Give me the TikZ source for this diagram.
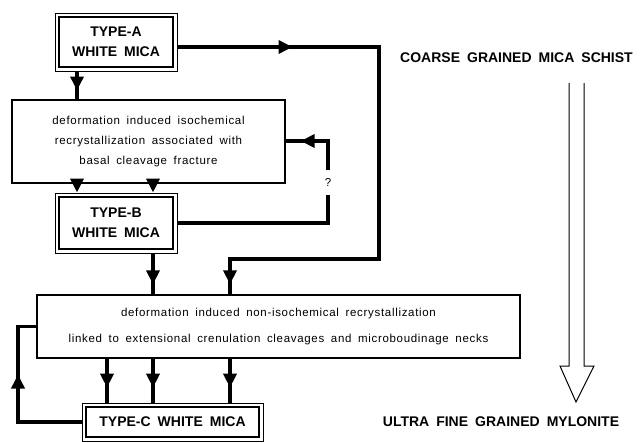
\documentclass[tikz,border=0pt]{standalone}
\usepackage{fontspec}
\setmainfont{Liberation Sans}
\newfontfamily\capsfont[WordSpace=1.8]{Liberation Sans}
\newfontfamily\lowfont[WordSpace=1.7,LetterSpace=6]{Liberation Sans}
\usetikzlibrary{arrows.meta,decorations.markings}
\tikzset{
  micabox/.style={draw, line width=1pt, inner sep=0pt, align=center,
    font=\capsfont\bfseries\fontsize{14}{20}\selectfont},
  procbox/.style={draw, line width=1.3pt, inner sep=0pt, align=center},
  conn/.style={line width=3.8pt},
  endtip/.style={-{Triangle[length=14pt,width=13pt]}},
  marktip/.style={postaction={decorate}, decoration={markings,
    mark=at position #1 with {\arrow{Triangle[length=14pt,width=13pt]}}}},
  sidelabel/.style={font=\capsfont\bfseries\fontsize{14}{15}\selectfont, inner sep=0pt}
}
\begin{document}
\begin{tikzpicture}[x=1pt,y=-1pt]
\useasboundingbox (0,0) rectangle (640,442);
% column coordinates
\coordinate (c18) at (18,0);
\coordinate (c77) at (77,0);
\coordinate (c107) at (107,0);
\coordinate (c153) at (153,0);
\coordinate (c230) at (230,0);
\coordinate (c328) at (328,0);
\coordinate (c379) at (379,0);
\coordinate (r141) at (0,141);
\coordinate (r259) at (0,259);
% boxes
\node[micabox, minimum width=122pt, minimum height=58pt] (A) at (116,42) {TYPE-A\\WHITE MICA};
\node[procbox, minimum width=273pt, minimum height=83pt,
  font=\lowfont\fontsize{11.5}{20}\selectfont] (P1) at (148.5,141.5)
  {deformation induced isochemical\\recrystallization associated with\\basal cleavage fracture};
\node[micabox, minimum width=122pt, minimum height=60pt] (B) at (116,223) {TYPE-B\\WHITE MICA};
\node[procbox, minimum width=483pt, minimum height=63pt,
  font=\lowfont\fontsize{11.5}{26}\selectfont] (P2) at (278.5,326.5)
  {deformation induced non-isochemical recrystallization\\linked to extensional crenulation cleavages and microboudinage necks};
\node[micabox, minimum width=181pt, minimum height=38pt] (C) at (172.5,422) {TYPE-C WHITE MICA};
\foreach \n in {A,B,C}
  \draw[line width=2.2pt] ([xshift=4.5pt,yshift=-4.5pt]\n.north west) rectangle ([xshift=-4.5pt,yshift=4.5pt]\n.south east);
% side labels
\node[sidelabel] (top) at (516.5,58) {COARSE GRAINED MICA SCHIST};
\node[sidelabel] (bot) at (501,422) {ULTRA FINE GRAINED MYLONITE};
% connectors
\draw[conn, marktip=19pt] (c77 |- A.south) -- (c77 |- P1.north);
\draw[conn, postaction={decorate}, decoration={markings,
    mark=at position 115pt with {\arrow{Triangle[length=14pt,width=13pt]}},
    mark=at position -10pt with {\arrow{Triangle[length=14pt,width=13pt]}}}]
  ([yshift=-5pt]A.east) -| (c379 |- r259) -| (c230 |- P2.north);
\draw[conn, endtip] (c77 |- P1.south) -- (c77 |- B.north);
\draw[conn, endtip] (c153 |- P1.south) -- (c153 |- B.north);
\draw[conn, marktip=-15pt] (B.east) -| node[pos=0.75, fill=white, minimum height=25pt, inner sep=1pt, font=\lowfont\fontsize{11.5}{12}\selectfont] (q) {?} (c328 |- r141) -- (P1.east |- r141);
\draw[conn, marktip=-10pt] (c153 |- B.south) -- (c153 |- P2.north);
\draw[conn, marktip=29pt] (c107 |- P2.south) -- (c107 |- C.north);
\draw[conn, marktip=29pt] (c153 |- P2.south) -- (c153 |- C.north);
\draw[conn, marktip=29pt] (c230 |- P2.south) -- (c230 |- C.north);
\draw[conn, marktip=111pt] (C.west) -| (c18 |- P2.west) -- (P2.west);
% hollow arrow
\draw[line width=1pt, line join=miter] (569,83) -- (569,366) -- (560,366) -- (576,402) -- (594,366) -- (584,366) -- (584,83);
\end{tikzpicture}
\end{document}
